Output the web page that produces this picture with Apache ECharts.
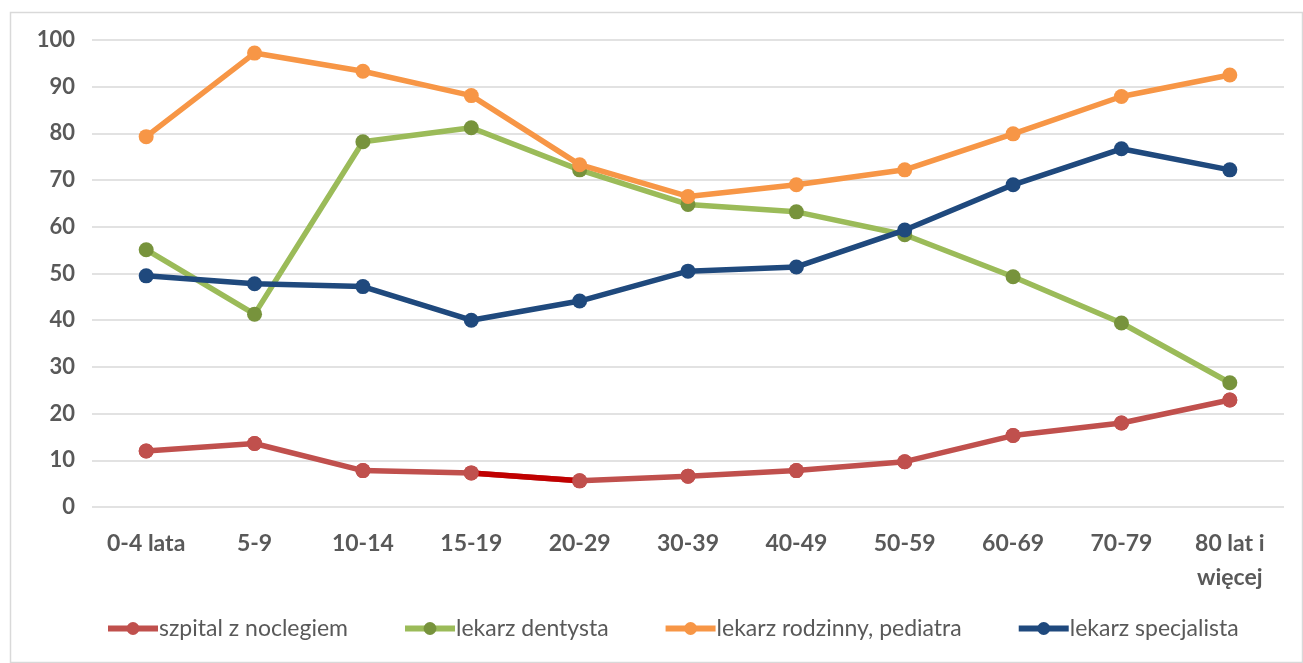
<!DOCTYPE html>
<html>
<head>
<meta charset="utf-8">
<script src="https://cdn.jsdelivr.net/npm/echarts@6/dist/echarts.min.js"></script>
<style>
  html, body { margin: 0; padding: 0; background: #fff; }
  #chart { width: 1303px; height: 663px; }
</style>
</head>
<body>
<div id="chart"></div>
<script>
const categories = ['0-4 lata', '5-9', '10-14', '15-19', '20-29', '30-39', '40-49', '50-59', '60-69', '70-79', '80 lat i\nwięcej'];

const szpital     = [12.0, 13.6, 7.8, 7.3, 5.6, 6.6, 7.8, 9.7, 15.3, 18.0, 22.9];
const dentysta    = [55.1, 41.3, 78.2, 81.2, 72.2, 64.8, 63.2, 58.3, 49.3, 39.4, 26.6];
const rodzinny    = [79.3, 97.2, 93.3, 88.1, 73.3, 66.5, 69.0, 72.2, 79.9, 87.9, 92.5];
const specjalista = [49.5, 47.8, 47.2, 40.0, 44.1, 50.5, 51.4, 59.3, 69.0, 76.7, 72.2];

const yTicks = [0, 10, 20, 30, 40, 50, 60, 70, 80, 90, 100];

// the one dark-red stretch on the hospital line (15-19 -> 20-29)
const szpitalDark = szpital.map((v, i) => (i === 3 || i === 4) ? v : null);

const FONT = 'Lato, "Liberation Sans", sans-serif';
const LABEL = '#595959';

function lineSeries(name, data, line, marker, z) {
  return {
    name, type: 'line', data, z,
    symbol: 'circle', symbolSize: 15,
    lineStyle: { color: line, width: 5.5 },
    itemStyle: { color: marker },
    emphasis: { disabled: true },
  };
}

const c = echarts.init(document.getElementById('chart'), null, { renderer: 'canvas' });
c.setOption({
  animation: false,
  textStyle: { fontFamily: FONT },
  graphic: [{
    type: 'rect', left: 8, top: 10,
    shape: { width: 1292, height: 650 },
    style: { fill: 'none', stroke: '#D9D9D9', lineWidth: 1.5 },
    silent: true,
  }],
  grid: { left: 92, right: 19, top: 40, bottom: 156, containLabel: false },
  legend: {
    bottom: 18, left: 100,
    itemWidth: 50, itemHeight: 16, itemGap: 54,
    lineStyle: { width: 6 },
    textStyle: { color: LABEL, fontSize: 23, fontFamily: FONT, padding: [0, 0, 0, -4] },
    data: ['szpital z noclegiem', 'lekarz dentysta', 'lekarz rodzinny, pediatra', 'lekarz specjalista'],
  },
  xAxis: {
    type: 'category', data: categories, boundaryGap: true,
    axisLine: { show: false }, axisTick: { show: false },
    axisLabel: { color: LABEL, fontSize: 23, fontWeight: 'bold', margin: 20, interval: 0, lineHeight: 34 },
  },
  yAxis: {
    type: 'value', min: 0, max: 100, interval: 10,
    axisLine: { show: false }, axisTick: { show: false },
    splitLine: { lineStyle: { color: '#D9D9D9', width: 1.5 } },
    axisLabel: { color: LABEL, fontSize: 22, fontWeight: 'bold', margin: 17,
      formatter: v => yTicks.includes(v) ? String(v) : '' },
  },
  series: [
    lineSeries('szpital z noclegiem', szpital, '#C0504D', '#C0504D', 2),
    {
      name: 'szpital-dark', type: 'line', data: szpitalDark, showSymbol: false,
      lineStyle: { color: '#C00000', width: 5.5 }, z: 3,
      emphasis: { disabled: true }, silent: true,
    },
    Object.assign(lineSeries('szpital z noclegiem', szpital, '#C0504D', '#C0504D', 4), { lineStyle: { width: 0, opacity: 0 } }),
    lineSeries('lekarz dentysta', dentysta, '#9BBB59', '#77933C', 5),
    lineSeries('lekarz rodzinny, pediatra', rodzinny, '#F79646', '#F79646', 6),
    lineSeries('lekarz specjalista', specjalista, '#1F497D', '#1F497D', 7),
  ],
});
</script>
</body>
</html>
